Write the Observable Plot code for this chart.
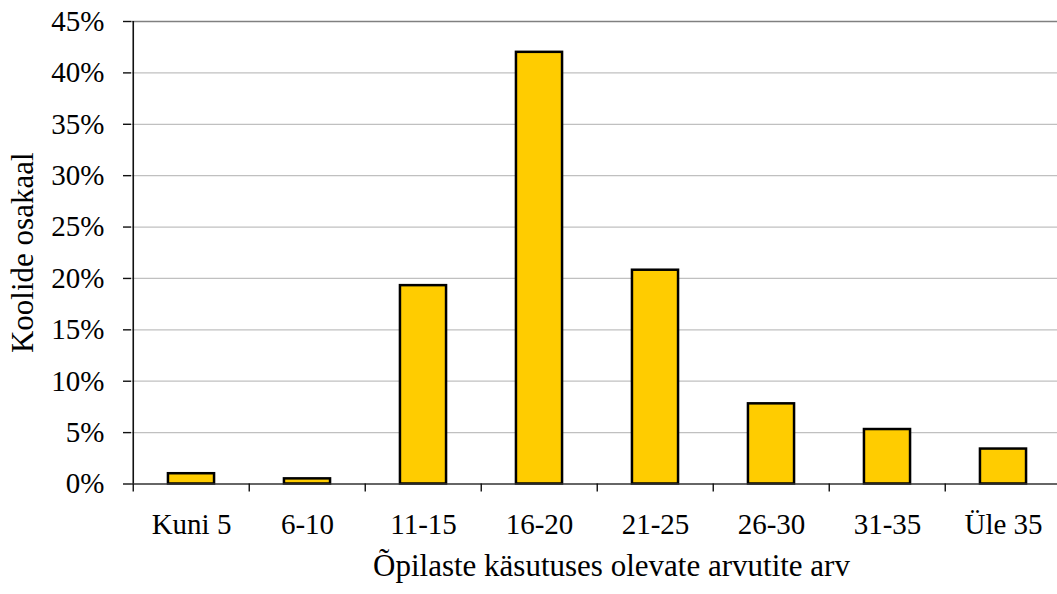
<!DOCTYPE html>
<html>
<head>
<meta charset="utf-8">
<script src="https://cdn.jsdelivr.net/npm/d3@7"></script>
<script src="https://cdn.jsdelivr.net/npm/@observablehq/plot@0.6"></script>
<style>
  html, body { margin: 0; padding: 0; background: #fff; }
  #chart svg { display: block; }
</style>
</head>
<body>
<div id="chart"></div>
<script>
// Share of schools by number of computers available to pupils
const categories = ["Kuni 5", "6-10", "11-15", "16-20", "21-25", "26-30", "31-35", "Üle 35"];
const shares = [1.0, 0.5, 19.3, 42.0, 20.8, 7.8, 5.3, 3.4];
const yTicks = [0, 5, 10, 15, 20, 25, 30, 35, 40, 45];
const xTitle = "Õpilaste käsutuses olevate arvutite arv";
const yTitle = "Koolide osakaal";

const data = categories.map((c, i) => ({category: c, share: shares[i]}));

const width = 1057, height = 594;
const marginLeft = 131, marginTop = 21, marginBottom = 110.5, marginRight = -6;
const step = (width - marginLeft - marginRight) / categories.length;
const serif = "'Liberation Serif', 'Times New Roman', serif";

const chart = Plot.plot({
  width, height, marginLeft, marginTop, marginBottom, marginRight,
  style: {fontFamily: serif, fontSize: "29px", color: "#000", background: "#fff"},
  x: {domain: categories, padding: 0},
  y: {domain: [0, 45]},
  marks: [
    // horizontal gridlines
    Plot.ruleY(yTicks.filter(t => t > 0 && t < 45), {stroke: "#c0c0c0", strokeWidth: 1.2}),
    Plot.ruleY([45], {stroke: "#808080", strokeWidth: 1.5}),
    // bars
    Plot.barY(data, {x: "category", y: "share", fill: "#FFCC00", stroke: "#000", strokeWidth: 2.5,
      insetLeft: step * 0.3, insetRight: step * 0.3}),
    // axis lines
    Plot.ruleY([0], {stroke: "#333", strokeWidth: 1.6}),
    Plot.ruleX([categories[0]], {x: d => d, dx: -step / 2, y1: 0, y2: 45, stroke: "#111", strokeWidth: 1.6}),
    // y axis ticks and labels
    Plot.axisY({ticks: yTicks, tickFormat: d => d + "%", tickSize: 8, tickPadding: 19,
      label: null, stroke: "#111", strokeWidth: 1.4, fontSize: 29}),
    // x axis: tick marks at category boundaries, labels centred in each band
    Plot.axisX({tickSize: 8, tickFormat: () => "", dx: -step / 2, label: null, stroke: "#111", strokeWidth: 1.4}),
    Plot.axisX({tickSize: 0, tickPadding: 29, label: null, fontSize: 29}),
    // axis titles
    Plot.text([xTitle], {frameAnchor: "bottom", dy: 92, dx: 14, fontSize: 31}),
    Plot.text([yTitle], {frameAnchor: "left", rotate: -90, textAnchor: "middle", dx: -108, fontSize: 31})
  ]
});

document.getElementById("chart").appendChild(chart);
</script>
</body>
</html>
